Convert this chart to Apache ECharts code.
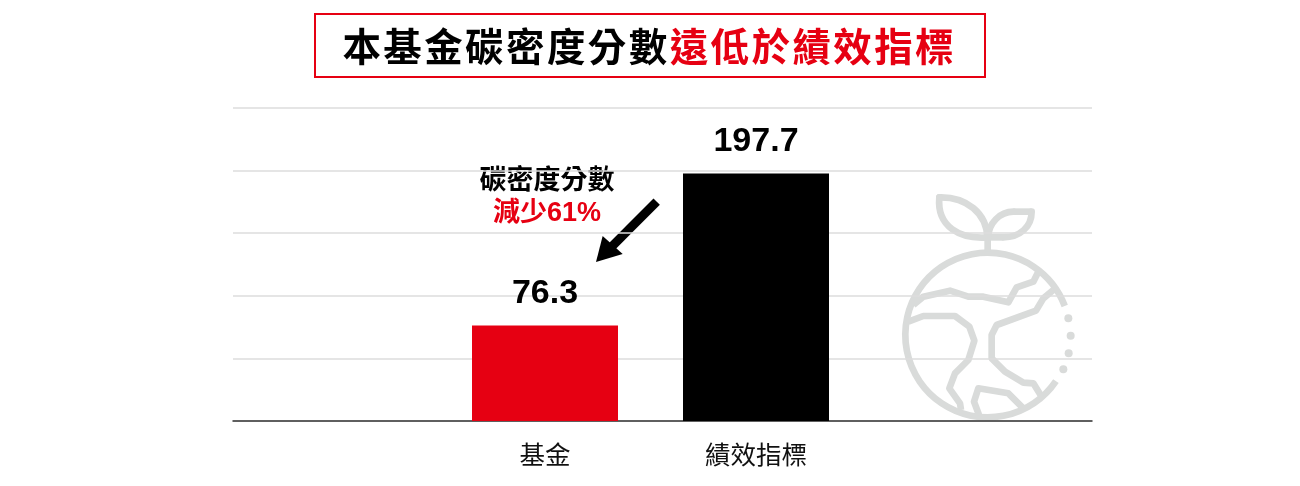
<!DOCTYPE html>
<html>
<head>
<meta charset="utf-8">
<style>html,body{margin:0;padding:0;background:#fff}#chart{width:1300px;height:486px}</style>
<script src="https://cdn.jsdelivr.net/npm/echarts@6/dist/echarts.min.js"></script>
</head>
<body>
<div id="chart"></div>
<script>
// 資料
var categories = ['基金', '績效指標'];
var scores = [76.3, 197.7];
var barColors = ['#e60012', '#000000'];
var axisMax = 250;
var axisStep = 50;

var titleBlack = '本基金碳密度分數';
var titleRed = '遠低於績效指標';
var noteTop = '碳密度分數';
var noteBottom = '減少61%';

var RED = '#e60012';
var GLOBE = '#d9dbda';
var CJK = '"Noto Sans CJK TC", "Liberation Sans", sans-serif';
var LATIN = '"Liberation Sans", "Noto Sans CJK TC", sans-serif';

// 字距:用 hair space 撐開
function spaced(s) {
	return s.split('').join('\u200a');
}

// 地球圖示(座標以 3 倍放大描出,再縮回)
var globeLines = [
	[[323, 215], [323, 150]],
	[[455, 95], [400, 95]],
	[[325, 172], [370, 172]],
	[[100, 375], [130, 350], [210, 332], [265, 350], [310, 350], [385, 367], [410, 322], [460, 305], [475, 275]],
	[[520, 330], [490, 355], [468, 392], [350, 435], [335, 465], [335, 535], [375, 575], [430, 608], [460, 610], [485, 650]],
	[[85, 425], [130, 408], [225, 408], [268, 440], [283, 482], [265, 540], [225, 580], [208, 625], [240, 670], [243, 690]],
	[[297, 705], [282, 665], [295, 625], [385, 640], [430, 685]]
];
// 葉子:x1,y1,cpx1,cpy1,cpx2,cpy2,x2,y2
var leafCurves = [
	[178, 52, 260, 50, 320, 100, 322, 172],
	[322, 172, 240, 178, 170, 140, 178, 52],
	[400, 95, 360, 95, 325, 130, 325, 172],
	[370, 172, 420, 172, 455, 140, 455, 95]
];
var globeDots = [[565, 415], [572, 467], [566, 520], [550, 568]];

var globeChildren = [{
	type: 'arc',
	shape: {cx: 323, cy: 465, r: 247, startAngle: 34 * Math.PI / 180, endAngle: 339.4 * Math.PI / 180, clockwise: true},
	style: {fill: null, stroke: GLOBE, lineWidth: 20}
}];
for (var i in globeLines) {
	globeChildren.push({
		type: 'polyline',
		shape: {points: globeLines[i]},
		style: {fill: null, stroke: GLOBE, lineWidth: 20, lineJoin: 'round'}
	});
}
for (var c in leafCurves) {
	var p = leafCurves[c];
	globeChildren.push({
		type: 'bezierCurve',
		shape: {x1: p[0], y1: p[1], cpx1: p[2], cpy1: p[3], cpx2: p[4], cpy2: p[5], x2: p[6], y2: p[7]},
		style: {fill: null, stroke: GLOBE, lineWidth: 20, lineCap: 'round'}
	});
}
for (var j in globeDots) {
	globeChildren.push({
		type: 'circle',
		shape: {cx: globeDots[j][0], cy: globeDots[j][1], r: 12},
		style: {fill: GLOBE}
	});
}

var option = {
	backgroundColor: '#fff',
	animation: false,
	grid: [
		{left: 233, top: 108, width: 859, height: 313},
		{left: 439.5, top: 108, width: 422, height: 313}
	],
	xAxis: [{
		type: 'category',
		gridIndex: 0,
		data: [''],
		axisTick: {show: false},
		axisLabel: {show: false},
		axisLine: {lineStyle: {color: '#333', width: 1.5}}
	}, {
		type: 'category',
		gridIndex: 1,
		data: categories,
		axisTick: {show: false},
		axisLine: {show: false},
		axisLabel: {color: '#111', fontFamily: CJK, fontSize: 25.5, margin: 21}
	}],
	yAxis: [{
		type: 'value',
		gridIndex: 0,
		min: 0,
		max: axisMax,
		interval: axisStep,
		axisLabel: {show: false},
		axisLine: {show: false},
		axisTick: {show: false},
		splitLine: {lineStyle: {color: '#dcdcdc', width: 1.5}}
	}, {
		type: 'value',
		gridIndex: 1,
		min: 0,
		max: axisMax,
		interval: axisStep,
		show: false,
		splitLine: {show: false}
	}],
	series: [{
		type: 'bar',
		xAxisIndex: 1,
		yAxisIndex: 1,
		barWidth: 146,
		data: scores.map(function (v, i) {
			return {value: v, itemStyle: {color: barColors[i]}};
		}),
		label: {
			show: true,
			position: 'top',
			distance: 15,
			color: '#000',
			fontFamily: LATIN,
			fontWeight: 'bold',
			fontSize: 34
		}
	}],
	graphic: [{
		type: 'rect',
		shape: {x: 315, y: 14, width: 670, height: 63},
		style: {fill: 'none', stroke: RED, lineWidth: 2}
	}, {
		type: 'text',
		x: 648,
		y: 46,
		style: {
			text: '{k|' + spaced(titleBlack) + '}{r|\u200a' + spaced(titleRed) + '}',
			align: 'center',
			verticalAlign: 'middle',
			rich: {
				k: {fill: '#000', font: 'bold 38.5px ' + CJK},
				r: {fill: RED, font: 'bold 38.5px ' + CJK}
			}
		}
	}, {
		type: 'text',
		x: 547,
		y: 179,
		style: {
			text: noteTop,
			fill: '#000',
			font: 'bold 27px ' + CJK,
			align: 'center',
			verticalAlign: 'middle'
		}
	}, {
		type: 'text',
		x: 547,
		y: 214,
		style: {
			text: noteBottom,
			fill: RED,
			font: 'bold 27px ' + LATIN,
			align: 'center',
			verticalAlign: 'middle'
		}
	}, {
		type: 'group',
		x: 880,
		y: 180,
		scaleX: 1 / 3,
		scaleY: 1 / 3,
		children: globeChildren
	}, {
		// 箭頭
		type: 'group',
		x: 460,
		y: 150,
		scaleX: 1 / 3,
		scaleY: 1 / 3,
		children: [{
			type: 'line',
			shape: {x1: 590, y1: 155, x2: 450, y2: 295},
			style: {stroke: '#000', lineWidth: 27}
		}, {
			type: 'polygon',
			shape: {points: [[408, 336], [428, 258], [488, 312]]},
			style: {fill: '#000'}
		}]
	}]
};

var myChart = echarts.init(document.getElementById('chart'));
myChart.setOption(option);
</script>
</body>
</html>
